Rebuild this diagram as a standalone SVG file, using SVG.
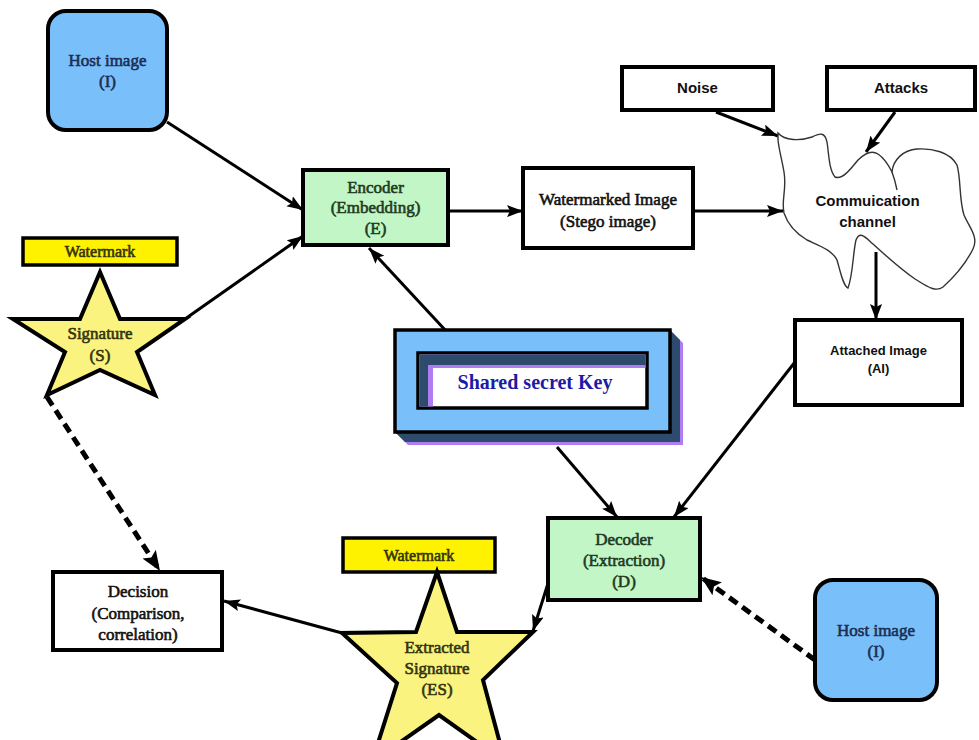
<svg xmlns="http://www.w3.org/2000/svg" width="979" height="740" viewBox="0 0 979 740">
  <style>
    .box { stroke: #000; stroke-width: 4; stroke-linejoin: miter; }
    .white { fill: #fff; }
    .green { fill: #c2f6c6; }
    .blue { fill: #79bffa; }
    .yellow { fill: #fff200; stroke: #000; stroke-width: 3.5; }
    .star { fill: #fbf37f; stroke: #000; stroke-width: 4; stroke-linejoin: miter; }
    .serif { font-family: "Liberation Serif", "Times New Roman", serif; font-size: 17px; text-anchor: middle; stroke-width: 0.6; }
    .sans { font-family: "Liberation Sans", Arial, sans-serif; font-weight: bold; font-size: 15px; text-anchor: middle; fill: #111; }
    .navy { fill: #1c2e52; stroke: #1c2e52; }
    .dkgreen { fill: #1f3a22; stroke: #1f3a22; }
    .olive { fill: #33330e; stroke: #33330e; }
    .ink { fill: #111; stroke: #111; }
    .edge { fill: none; stroke: #000; stroke-width: 3; marker-end: url(#arrow); }
    .dash { fill: none; stroke: #000; stroke-width: 5; stroke-dasharray: 10 6; marker-end: url(#arrowBig); }
  </style>
  <defs>
    <marker id="arrow" markerUnits="userSpaceOnUse" markerWidth="18" markerHeight="14" refX="16" refY="6" orient="auto">
      <path d="M0,0 L16,6 L0,12 L3,6 z" fill="#000"/>
    </marker>
    <marker id="arrowBig" markerUnits="userSpaceOnUse" markerWidth="22" markerHeight="18" refX="20" refY="8" orient="auto">
      <path d="M0,0 L20,8 L0,16 L4,8 z" fill="#000"/>
    </marker>
  </defs>

  <rect width="979" height="740" fill="#fff"/>

  <!-- connectors -->
  <g id="connectors">
    <line class="edge" x1="167" y1="122" x2="303" y2="210"/>
    <line class="edge" x1="185" y1="319" x2="303" y2="236"/>
    <line class="edge" x1="448" y1="211" x2="523" y2="211"/>
    <line class="edge" x1="693" y1="211" x2="783" y2="211"/>
    <line class="edge" x1="716" y1="112" x2="778" y2="136"/>
    <line class="edge" x1="895" y1="112" x2="866" y2="152"/>
    <line class="edge" x1="876" y1="252" x2="876" y2="320"/>
    <line class="edge" x1="447" y1="332" x2="369" y2="248"/>
    <line class="edge" x1="557" y1="447" x2="617" y2="517"/>
    <line class="edge" x1="795" y1="362" x2="674" y2="517"/>
    <line class="edge" x1="550" y1="577" x2="533" y2="631"/>
    <line class="edge" x1="342" y1="633" x2="224" y2="601"/>
    <line class="dash" x1="47" y1="397" x2="160" y2="571"/>
    <line class="dash" x1="815" y1="660" x2="701" y2="577"/>
  </g>

  <!-- host image (top) -->
  <g id="host-top">
    <rect class="box blue" x="48" y="11" width="119" height="119" rx="18"/>
    <text class="serif navy" x="107.5" y="66">Host image</text>
    <text class="serif navy" x="107.5" y="87">(I)</text>
  </g>

  <!-- encoder -->
  <g id="encoder">
    <rect class="box green" x="303" y="170" width="145" height="75"/>
    <text class="serif dkgreen" x="375.5" y="193">Encoder</text>
    <text class="serif dkgreen" x="375.5" y="213">(Embedding)</text>
    <text class="serif dkgreen" x="375.5" y="234">(E)</text>
  </g>

  <!-- watermarked image -->
  <g id="watermarked">
    <rect class="box white" x="523" y="168" width="170" height="80"/>
    <text class="serif ink" x="608" y="205">Watermarked Image</text>
    <text class="serif ink" x="608" y="227">(Stego image)</text>
  </g>

  <!-- noise -->
  <g id="noise">
    <rect class="box white" x="622" y="67" width="151" height="43"/>
    <text class="sans" x="697.5" y="93">Noise</text>
  </g>

  <!-- attacks -->
  <g id="attacks">
    <rect class="box white" x="827" y="67" width="148" height="43"/>
    <text class="sans" x="901" y="93">Attacks</text>
  </g>

  <!-- communication channel cloud -->
  <g id="channel">
    <path d="M778,133 C785,141 800,141 812,137 C820,133 825,132 827,142 C829,155 829,170 835,177 C842,180 850,170 858,160 C865,153 872,150 878,154 C884,158 888,164 892,172
             C893,160 903,150 917,149 C932,148 950,152 957,165 C961,178 959,200 964,215 C969,227 979,237 973,249 C966,263 953,278 943,287 C935,293 925,285 915,279
             C902,270 885,255 873,244 C866,238 860,230 856,240 C853,252 853,275 848,288 C843,286 840,270 837,260 C832,250 820,246 807,240 C797,234 788,225 784,213
             C781,200 787,190 784,172 C782,160 779,150 778,140 z"
          fill="#fff" stroke="#333" stroke-width="1.4"/>
    <path d="M892,172 C895,180 896,185 897,190" fill="none" stroke="#333" stroke-width="1.4"/>
    <text class="sans" x="867.5" y="206">Commuication</text>
    <text class="sans" x="867.5" y="227">channel</text>
  </g>

  <!-- attached image -->
  <g id="attached">
    <rect class="box white" x="795" y="320" width="167" height="85"/>
    <text class="sans" x="878.5" y="355" style="font-size:13px">Attached Image</text>
    <text class="sans" x="878.5" y="373" style="font-size:13px">(AI)</text>
  </g>

  <!-- watermark + signature star (top) -->
  <g id="signature">
    <rect class="yellow" x="23" y="238" width="154" height="27"/>
    <text class="serif olive" x="100" y="257" style="font-size:16px">Watermark</text>
    <polygon class="star" points="100,272 120,319 185,319 137,352 155,395 100,370 47,395 65,352 13,319 80,319"/>
    <text class="serif olive" x="100" y="339">Signature</text>
    <text class="serif olive" x="100" y="361">(S)</text>
  </g>

  <!-- shared secret key -->
  <g id="shared-key">
    <polygon points="670,330 683,343 683,445 408,445 395,432 670,432" fill="#b07cf2"/>
    <polygon points="670,330 680,340 680,442 405,442 395,432 670,432" fill="#2d4b6c"/>
    <rect x="395" y="330" width="275" height="102" fill="#79bffa" stroke="#000" stroke-width="3.5"/>
    <rect x="418" y="353" width="229" height="55" fill="#fff" stroke="#000" stroke-width="3.5"/>
    <polygon points="419.5,354.5 645.5,354.5 645.5,368 433,368 433,406.5 419.5,406.5" fill="#b07cf2"/>
    <polygon points="419.5,354.5 645.5,354.5 645.5,365 428,365 428,406.5 419.5,406.5" fill="#2d4b6c"/>
    <text x="535" y="389" style="font-family:'Liberation Serif','Times New Roman',serif;font-weight:bold;font-size:20px;text-anchor:middle" fill="#1b1ba6">Shared secret Key</text>
  </g>

  <!-- decoder -->
  <g id="decoder">
    <rect class="box green" x="548" y="518" width="152" height="82"/>
    <text class="serif dkgreen" x="624" y="545">Decoder</text>
    <text class="serif dkgreen" x="624" y="566">(Extraction)</text>
    <text class="serif dkgreen" x="624" y="587">(D)</text>
  </g>

  <!-- host image (bottom) -->
  <g id="host-bottom">
    <rect class="box blue" x="815" y="580" width="122" height="120" rx="18"/>
    <text class="serif navy" x="876" y="636">Host image</text>
    <text class="serif navy" x="876" y="657">(I)</text>
  </g>

  <!-- decision -->
  <g id="decision">
    <rect class="box white" x="53" y="572" width="169" height="78"/>
    <text class="serif ink" x="138" y="597">Decision</text>
    <text class="serif ink" x="138" y="619">(Comparison,</text>
    <text class="serif ink" x="138" y="640">correlation)</text>
  </g>

  <!-- watermark + extracted signature star (bottom) -->
  <g id="extracted-signature">
    <rect class="yellow" x="343" y="538" width="152" height="34"/>
    <text class="serif olive" x="419" y="561" style="font-size:16px">Watermark</text>
    <polygon class="star" points="437,572 457,632 533,632 483,680 505,762 439,715 372,762 397,683 342,633 416,632"/>
    <text class="serif olive" x="437" y="653">Extracted</text>
    <text class="serif olive" x="437" y="674">Signature</text>
    <text class="serif olive" x="437" y="695">(ES)</text>
  </g>
</svg>
